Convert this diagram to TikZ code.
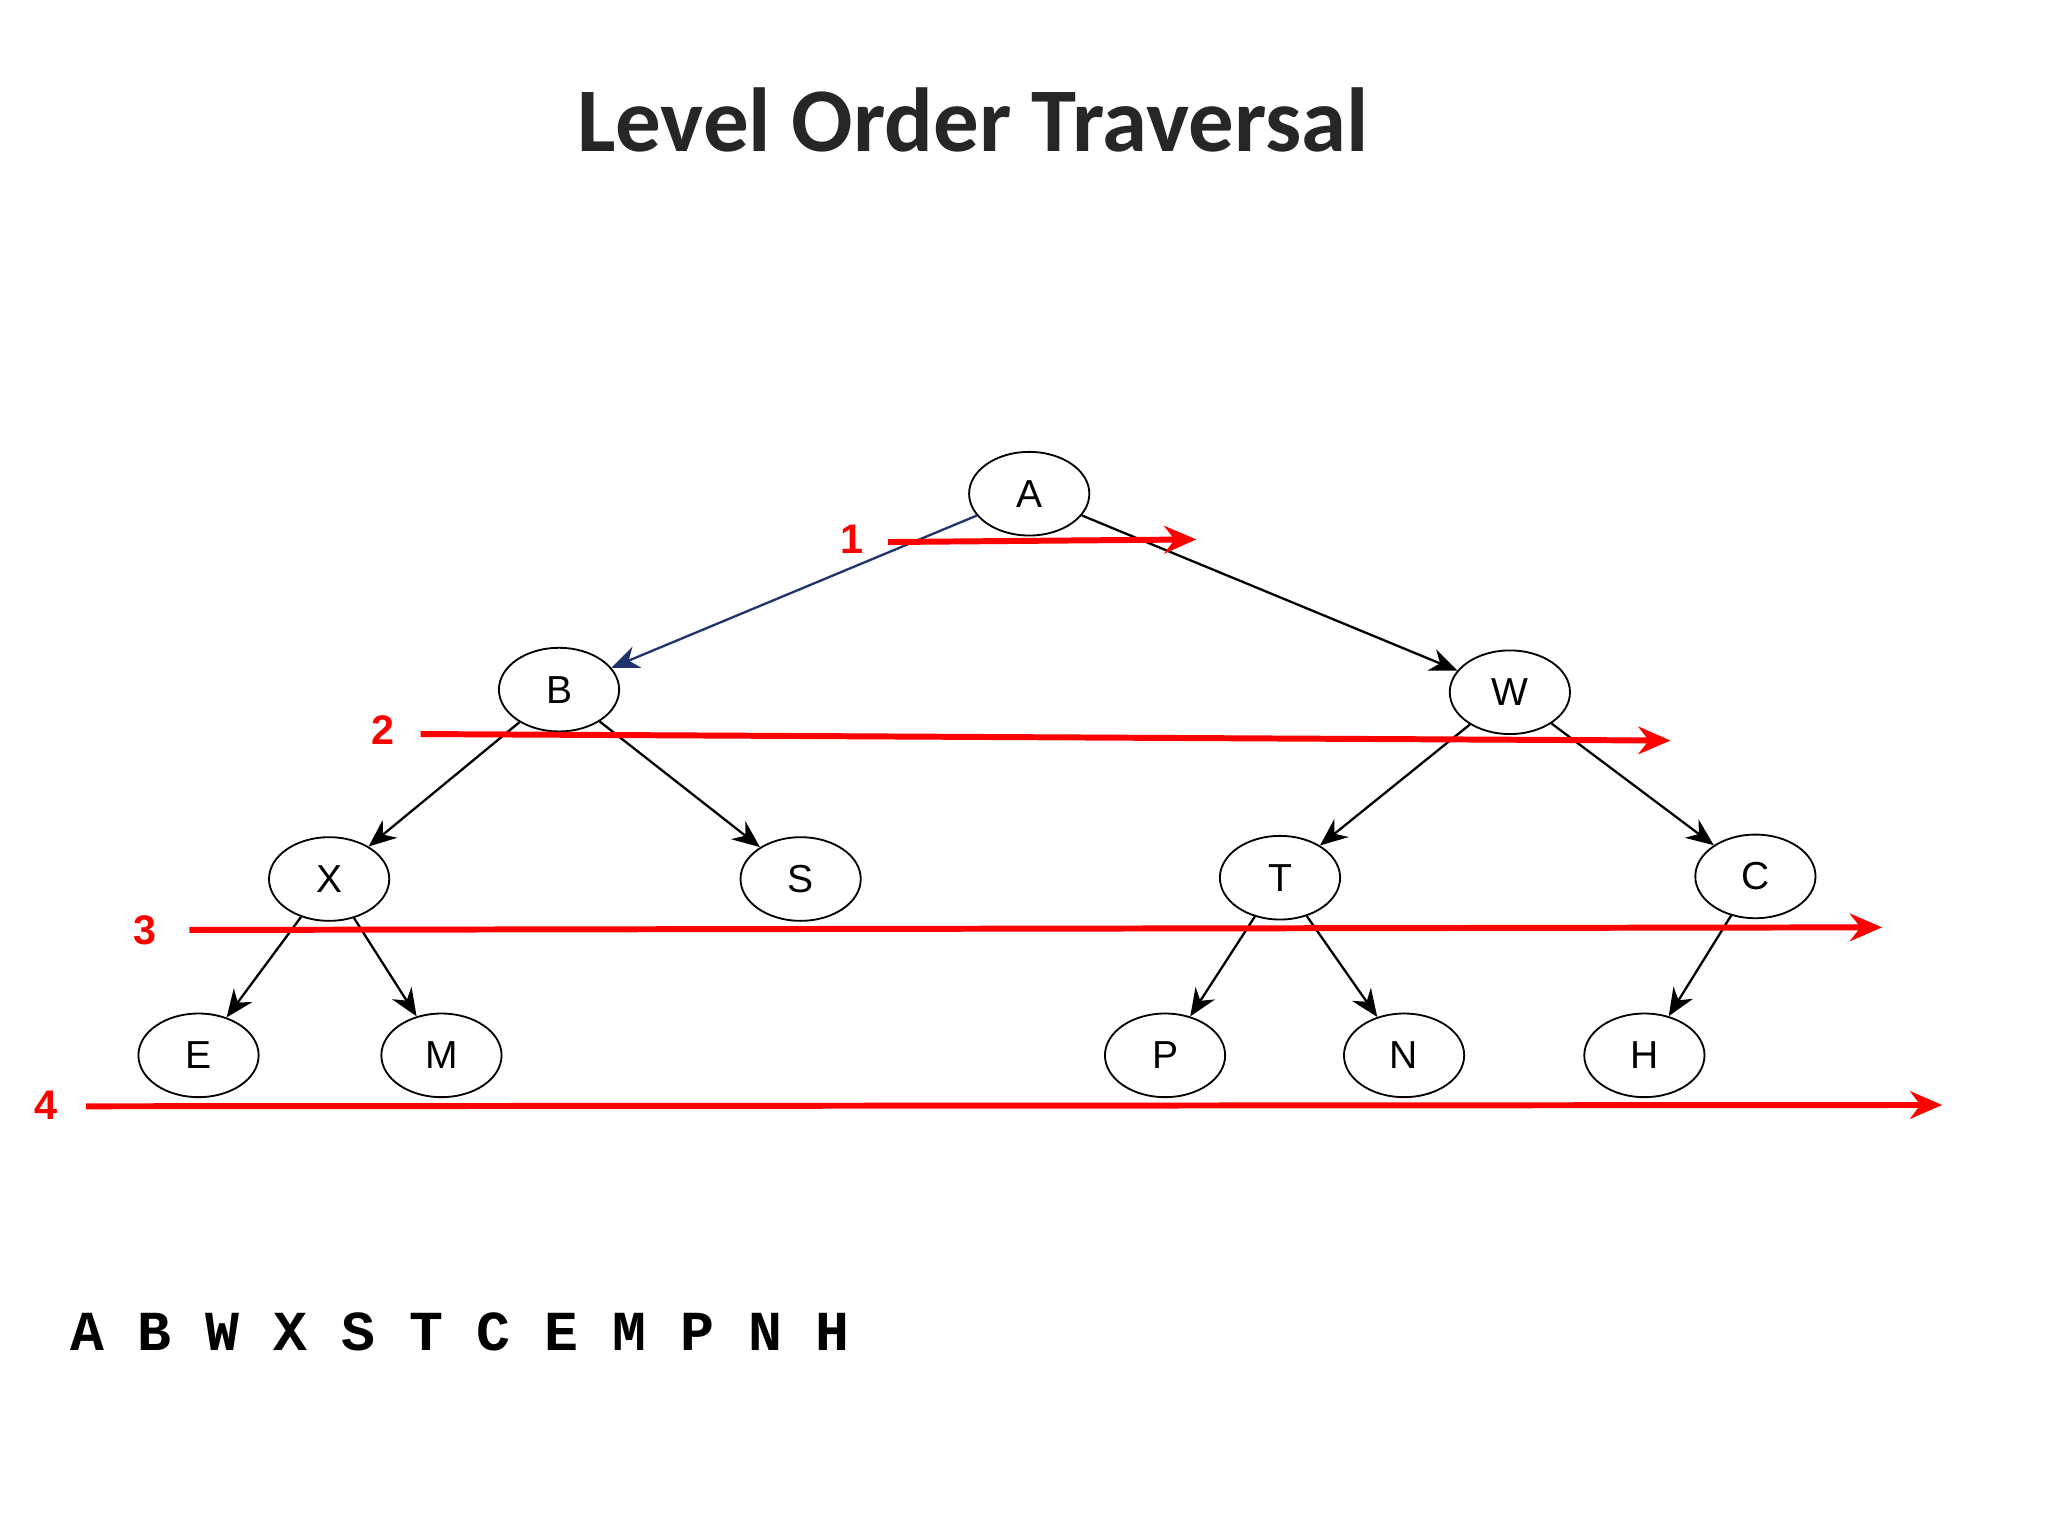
\documentclass[tikz,border=0pt]{standalone}
\usepackage{fontspec}
\setmainfont{Liberation Sans}
\newfontfamily\titlefont{Carlito}
\newfontfamily\monofont{Liberation Mono}
\usetikzlibrary{shapes.geometric,arrows.meta}
\begin{document}
\begin{tikzpicture}[x=0.01cm,y=-0.01cm,
  tn/.style={draw,ellipse,minimum width=0.92cm,minimum height=0.64cm,inner sep=0pt,font=\fontsize{8.5}{10}\selectfont},
  ed/.style={-{Stealth[length=6pt,width=5pt]},line width=0.5pt},
  lv/.style={red,line width=1.3pt,-{Stealth[length=7pt,width=6pt]}},
  lvl/.style={red,font=\bfseries\fontsize{9}{10}\selectfont}]
\useasboundingbox (0,0) rectangle (1568,1176);
\node[text={rgb,255:red,38;green,38;blue,38},font=\titlefont\bfseries\fontsize{19.8}{24}\selectfont] (title) at (745,92) {Level Order Traversal};
\node[tn] (A) at (788,378) {A};
\node[tn] (B) at (428,528) {B};
\node[tn] (W) at (1156,530) {W};
\node[tn] (X) at (252,673) {X};
\node[tn] (S) at (613,673) {S};
\node[tn] (T) at (980,672) {T};
\node[tn] (C) at (1344,671) {C};
\node[tn] (E) at (152,808) {E};
\node[tn] (M) at (338,808) {M};
\node[tn] (P) at (892,808) {P};
\node[tn] (N) at (1075,808) {N};
\node[tn] (H) at (1259,808) {H};
\draw[ed,draw={rgb,255:red,30;green,50;blue,110}] (A) -- (B);
\draw[ed] (A) -- (W);
\draw[ed] (B) -- (X);
\draw[ed] (B) -- (S);
\draw[ed] (W) -- (T);
\draw[ed] (W) -- (C);
\draw[ed] (X) -- (E);
\draw[ed] (X) -- (M);
\draw[ed] (T) -- (P);
\draw[ed] (T) -- (N);
\draw[ed] (C) -- (H);
\coordinate (l1a) at (680,415); \coordinate (l1b) at (916,413);
\coordinate (l2a) at (322,562); \coordinate (l2b) at (1279,567);
\coordinate (l3a) at (145,712); \coordinate (l3b) at (1441,710);
\coordinate (l4a) at (66,847); \coordinate (l4b) at (1487,846);
\draw[lv] (l1a) -- (l1b);
\draw[lv] (l2a) -- (l2b);
\draw[lv] (l3a) -- (l3b);
\draw[lv] (l4a) -- (l4b);
\node[lvl] (n1) at (652,413) {1};
\node[lvl] (n2) at (293,559) {2};
\node[lvl] (n3) at (111,712) {3};
\node[lvl] (n4) at (35,846) {4};
\node[anchor=west,inner sep=0pt,font=\monofont\bfseries\fontsize{12.3}{14}\selectfont] (seq) at (53,1020) {A B W X S T C E M P N H};
\end{tikzpicture}
\end{document}
